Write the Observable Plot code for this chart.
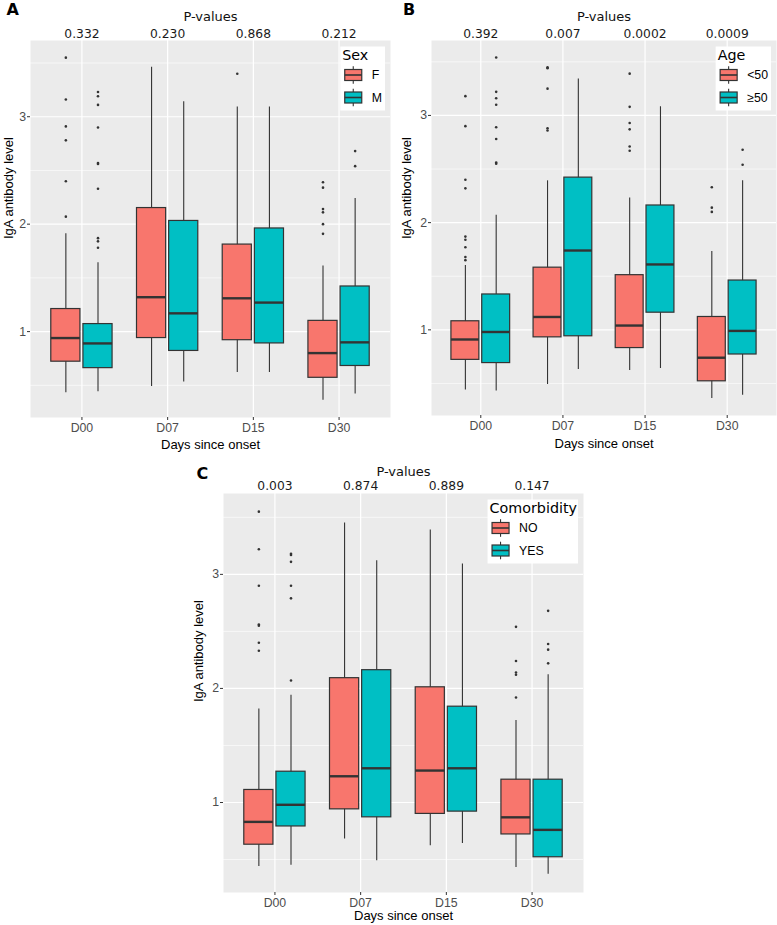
<!DOCTYPE html>
<html><head><meta charset="utf-8">
<script src="https://cdn.jsdelivr.net/npm/d3@7"></script>
<script src="https://cdn.jsdelivr.net/npm/@observablehq/plot@0.6"></script>
<style>
body{margin:0;background:#fff;}
#fig{position:relative;width:777px;height:925px;overflow:hidden;background:#fff;}
#fig > svg{position:absolute;}
</style></head><body><div id="fig"></div>
<script>
// ---------- shared ----------
const categories = ["D00", "D07", "D15", "D30"];
const yTicks = [1, 2, 3];
const yMinor = [0.5, 1.5, 2.5, 3.5];
const fillColors = ["#F8766D", "#00BFC4"];
const xTitle = "Days since onset";
const yTitle = "IgA antibody level";
const pTitle = "P-values";

// ---------- Panel A : Sex ----------  rows = categories, [group1, group2]
const sexGroups = ["F", "M"];
const sexP = ["0.332", "0.230", "0.868", "0.212"];
const sexLow  = [[0.43, 0.44], [0.49, 0.53], [0.62, 0.62], [0.36, 0.42]];
const sexQ1   = [[0.72, 0.66], [0.94, 0.82], [0.92, 0.89], [0.57, 0.68]];
const sexMed  = [[0.94, 0.89], [1.32, 1.17], [1.31, 1.27], [0.80, 0.90]];
const sexQ3   = [[1.21, 1.07], [2.15, 2.03], [1.81, 1.96], [1.10, 1.42]];
const sexHigh = [[1.91, 1.64], [3.46, 3.14], [3.09, 3.09], [1.61, 2.24]];
const sexOut  = [
  [[3.55, 3.16, 2.91, 2.78, 2.40, 2.07], [3.23, 3.19, 3.11, 2.90, 2.57, 2.56, 2.33, 1.87, 1.84, 1.78]],
  [[], []],
  [[3.40], []],
  [[2.39, 2.34, 2.14, 2.11, 2.00, 1.91], [2.68, 2.54]]
];

// ---------- Panel B : Age ----------
const ageGroups = ["<50", "≥50"];
const ageP = ["0.392", "0.007", "0.0002", "0.0009"];
const ageLow  = [[0.44, 0.43], [0.49, 0.63], [0.62, 0.64], [0.36, 0.39]];
const ageQ1   = [[0.72, 0.69], [0.93, 0.94], [0.83, 1.16], [0.52, 0.77]];
const ageMed  = [[0.91, 0.98], [1.12, 1.74], [1.04, 1.61], [0.74, 0.99]];
const ageQ3   = [[1.08, 1.33], [1.58, 2.42], [1.51, 2.16], [1.12, 1.46]];
const ageHigh = [[1.60, 2.07], [2.39, 3.34], [2.23, 3.08], [1.73, 2.39]];
const ageOut  = [
  [[3.18, 2.90, 2.40, 2.32, 1.87, 1.84, 1.77, 1.68, 1.65], [3.54, 3.22, 3.16, 3.10, 2.89, 2.78, 2.56, 2.55]],
  [[3.45, 3.44, 3.25, 2.88, 2.86], []],
  [[3.39, 3.08, 2.93, 2.87, 2.71, 2.67], []],
  [[2.33, 2.14, 2.10], [2.68, 2.54]]
];

// ---------- Panel C : Comorbidity ----------
const comGroups = ["NO", "YES"];
const comP = ["0.003", "0.874", "0.889", "0.147"];
const comLow  = [[0.44, 0.45], [0.68, 0.49], [0.62, 0.64], [0.43, 0.37]];
const comQ1   = [[0.63, 0.79], [0.94, 0.87], [0.90, 0.92], [0.72, 0.52]];
const comMed  = [[0.83, 0.98], [1.23, 1.30], [1.28, 1.30], [0.87, 0.76]];
const comQ3   = [[1.11, 1.27], [2.09, 2.16], [2.01, 1.84], [1.20, 1.20]];
const comHigh = [[1.82, 1.94], [3.45, 3.12], [3.39, 3.09], [1.72, 2.12]];
const comOut  = [
  [[3.55, 3.22, 2.90, 2.56, 2.55, 2.40, 2.33], [3.18, 3.17, 3.11, 2.90, 2.79, 2.07]],
  [[], []],
  [[], []],
  [[2.54, 2.24, 2.14, 2.12, 1.92], [2.68, 2.39, 2.34, 2.22]]
];

const SANS = "Liberation Sans, Arial, sans-serif";
const DEJA = "DejaVu Sans, Verdana, sans-serif";
const fig = document.getElementById("fig");

function drawPanel(cfg) {
  const rows = [], outs = [];
  categories.forEach((cat, i) => {
    cfg.groups.forEach((g, j) => {
      const x = i + (j - 0.5) * 0.375;
      rows.push({cat, group: g, x, lo: cfg.low[i][j], q1: cfg.q1[i][j], med: cfg.med[i][j], q3: cfg.q3[i][j], hi: cfg.high[i][j]});
      cfg.out[i][j].forEach(v => outs.push({x, y: v, group: g}));
    });
  });
  const all = rows.flatMap(r => [r.lo, r.hi]).concat(outs.map(o => o.y));
  const [mn, mx] = d3.extent(all);
  const pad = (mx - mn) * 0.05;
  const hw = 0.17;
  const idx = d3.range(categories.length);
  const plot = Plot.plot({
    width: cfg.width, height: cfg.height,
    marginTop: cfg.mt, marginRight: cfg.mr, marginBottom: cfg.mb, marginLeft: cfg.ml,
    x: {domain: [-0.6, categories.length - 0.4]},
    y: {domain: [mn - pad, mx + pad]},
    color: {domain: cfg.groups, range: fillColors},
    style: {background: "transparent", fontFamily: SANS, fontSize: "12.3px", color: "black", overflow: "visible"},
    marks: [
      Plot.frame({fill: "#EBEBEB", stroke: "none"}),
      Plot.ruleY(yMinor, {stroke: "white", strokeWidth: 0.6}),
      Plot.ruleY(yTicks, {stroke: "white", strokeWidth: 1.2}),
      Plot.ruleX(idx, {stroke: "white", strokeWidth: 1.2}),
      Plot.ruleX(rows, {x: "x", y1: "lo", y2: "hi", stroke: "#333", strokeWidth: 1.1}),
      Plot.rect(rows, {x1: d => d.x - hw, x2: d => d.x + hw, y1: "q1", y2: "q3", fill: "group", stroke: "#333", strokeWidth: 1.2}),
      Plot.ruleY(rows, {y: "med", x1: d => d.x - hw, x2: d => d.x + hw, stroke: "#333", strokeWidth: 2.4}),
      Plot.dot(outs, {x: "x", y: "y", r: 1.3, fill: "#333", stroke: "none"}),
      Plot.axisY(yTicks, {tickSize: 3, tickPadding: 1.5, label: null, tickFormat: d => String(d), color: "#4d4d4d", stroke: "#333", fontSize: 12.3, fontFamily: SANS}),
      Plot.axisX(idx, {anchor: "bottom", tickSize: 3, tickPadding: cfg.xPad, label: null, tickFormat: i => categories[i], color: "#4d4d4d", stroke: "#333", fontSize: 12.3, fontFamily: SANS}),
      Plot.text([yTitle], {frameAnchor: "left", rotate: -90, dx: cfg.yTitleDx, dy: cfg.yTitleDy, fontSize: 13, fontFamily: SANS, fill: "black", lineAnchor: "middle"}),
      Plot.text([xTitle], {frameAnchor: "bottom", dy: cfg.xTitleDy, fontSize: 13, fontFamily: SANS, fill: "black", lineAnchor: "middle"}),
      Plot.text([pTitle], {frameAnchor: "top", dy: cfg.pTitleDy, fontSize: 13, fontFamily: DEJA, fill: "#111", lineAnchor: "middle"}),
      Plot.text(cfg.pvals, {x: (d, i) => i, frameAnchor: "top", dy: cfg.pDy, fontSize: 12.3, fontFamily: DEJA, fill: "#1a1a1a", lineAnchor: "middle"})
    ]
  });
  plot.style.left = cfg.left + "px";
  plot.style.top = cfg.top + "px";
  fig.appendChild(plot);
  return {
    right: cfg.left + cfg.width - cfg.mr,
    top: cfg.top + cfg.mt,
    colors: plot.scale("color").range
  };
}

const pA = drawPanel({left: 0, top: 0, width: 390, height: 460, mt: 40, mr: 0, mb: 43, ml: 30,
  groups: sexGroups, pvals: sexP, low: sexLow, q1: sexQ1, med: sexMed, q3: sexQ3, high: sexHigh, out: sexOut,
  xPad: 3, yTitleDx: -21.5, yTitleDy: 10, xTitleDy: 27, pTitleDy: -23.3, pDy: -6.3});
const pB = drawPanel({left: 390, top: 0, width: 387, height: 460, mt: 40, mr: 1, mb: 45, ml: 41,
  groups: ageGroups, pvals: ageP, low: ageLow, q1: ageQ1, med: ageMed, q3: ageQ3, high: ageHigh, out: ageOut,
  xPad: 3, yTitleDx: -24.5, yTitleDy: 11, xTitleDy: 28, pTitleDy: -23.8, pDy: -6.3});
const pC = drawPanel({left: 180, top: 460, width: 420, height: 465, mt: 33, mr: 17, mb: 33, ml: 43,
  groups: comGroups, pvals: comP, low: comLow, q1: comQ1, med: comMed, q3: comQ3, high: comHigh, out: comOut,
  xPad: 2.3, yTitleDx: -24.3, yTitleDy: 9, xTitleDy: 23.7, pTitleDy: -21.3, pDy: -7.2});

// ---------- overlay: tags & legends ----------
const ov = d3.select(fig).append("svg").attr("width", 777).attr("height", 925)
  .style("left", "0px").style("top", "0px").style("pointer-events", "none");

[["A", 6.5, 15], ["B", 403, 15], ["C", 196.5, 478.5]].forEach(([t, x, y]) => {
  ov.append("text").attr("x", x).attr("y", y).text(t)
    .style("font-family", DEJA).style("font-weight", "bold").style("font-size", "16px").attr("fill", "black");
});

function drawLegend(panel, title, labels) {
  const g = ov.append("g");
  const bg = g.append("rect").attr("fill", "white");
  const tt = g.append("text").attr("x", 2).attr("y", 13).text(title)
    .style("font-family", DEJA).style("font-size", "14.3px").attr("fill", "black");
  let maxW = 0;
  labels.forEach((lab, k) => {
    const cy = 28.5 + 22.5 * k;
    g.append("line").attr("x1", 13).attr("x2", 13).attr("y1", cy - 8.8).attr("y2", cy + 8.8)
      .attr("stroke", "#333").attr("stroke-width", 1.1);
    g.append("rect").attr("x", 4.5).attr("y", cy - 5.5).attr("width", 17).attr("height", 11)
      .attr("fill", panel.colors[k]).attr("stroke", "#333").attr("stroke-width", 1.2);
    g.append("line").attr("x1", 4.5).attr("x2", 21.5).attr("y1", cy).attr("y2", cy)
      .attr("stroke", "#333").attr("stroke-width", 1.6);
    const t = g.append("text").attr("x", 31.5).attr("y", cy).attr("dy", "0.36em").text(lab)
      .style("font-family", SANS).style("font-size", "12.3px").attr("fill", "black");
    maxW = Math.max(maxW, t.node().getComputedTextLength());
  });
  const w = Math.max(tt.node().getComputedTextLength() + 3, 31.5 + maxW + 3);
  bg.attr("x", 0).attr("y", 0).attr("width", w).attr("height", 64);
  g.attr("transform", `translate(${panel.right - 5 - w},${panel.top + 6.5})`);
}
drawLegend(pA, "Sex", sexGroups);
drawLegend(pB, "Age", ageGroups);
drawLegend(pC, "Comorbidity", comGroups);
</script></body></html>
